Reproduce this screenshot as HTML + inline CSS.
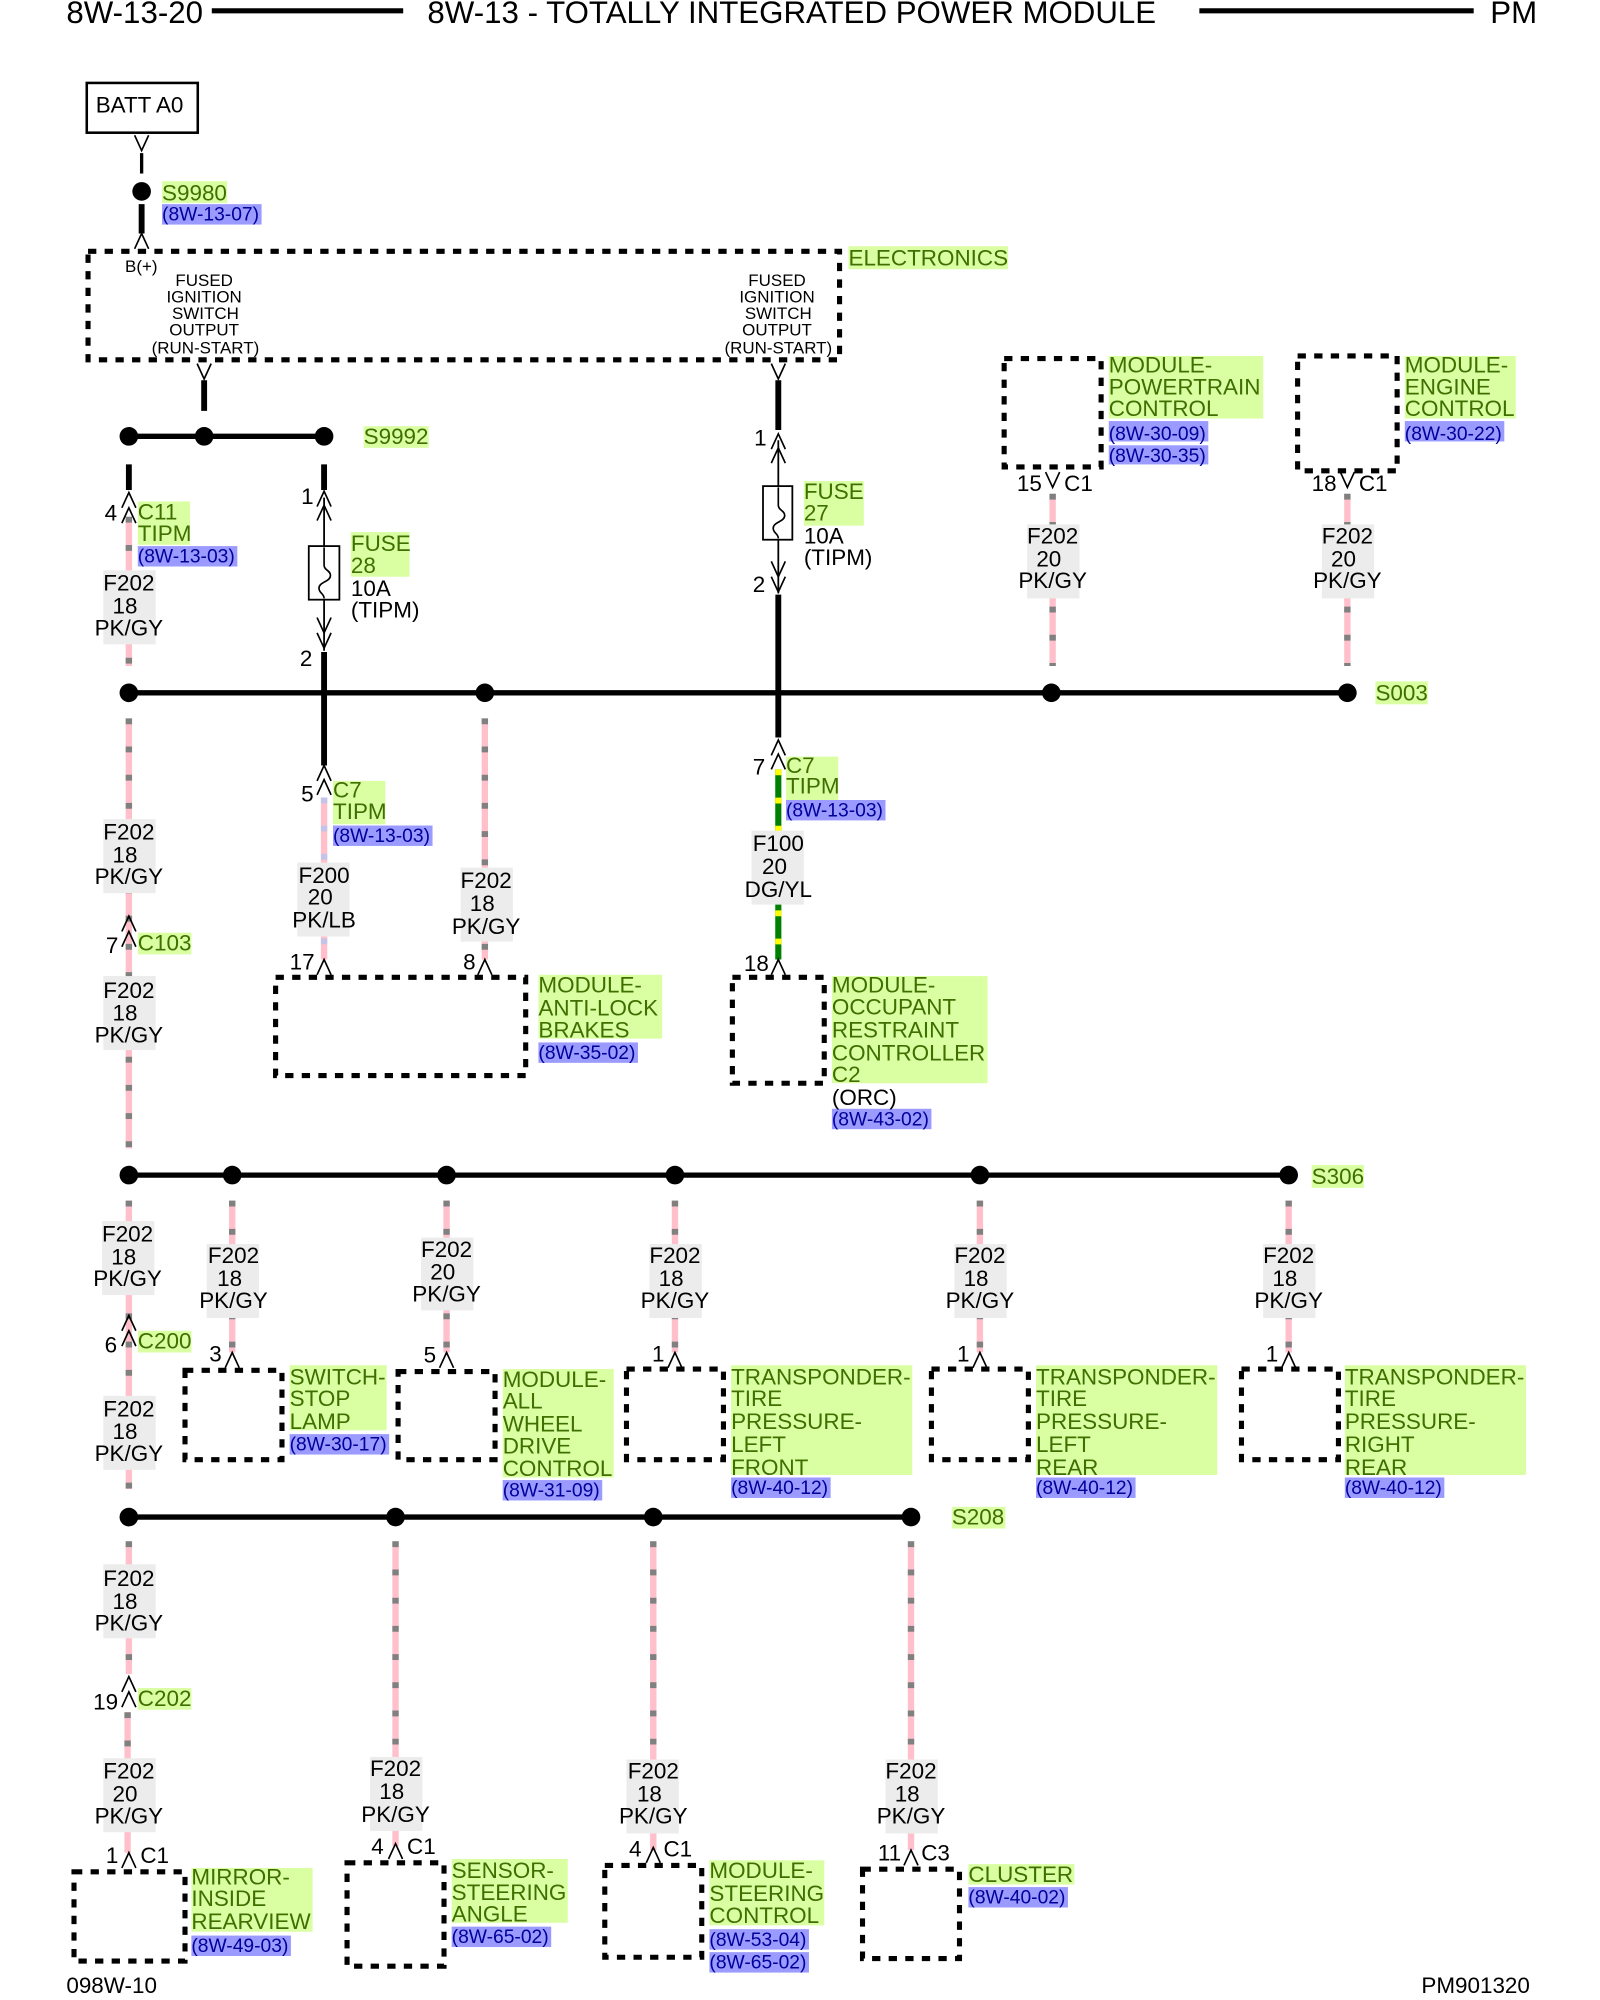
<!DOCTYPE html>
<html><head><meta charset="utf-8"><title>8W-13-20</title>
<style>
html,body{margin:0;padding:0;background:#fff}
svg{display:block}
text{font-family:"Liberation Sans",sans-serif;font-size:17.6px;fill:#000}
.g{fill:#d9ffa2}.b{fill:#9a9aff}.k{fill:#ececec}
.gt text,text.gt{fill:#3f6f00}
.bt text,text.bt{fill:#00009a;font-size:15.1px}
.s{font-size:13.3px}
.c{text-anchor:middle}
.h{font-size:24.5px}
.bus{stroke:#000;stroke-width:4.2;fill:none}
.th{stroke:#000;stroke-width:4.6;fill:none}
.tn{stroke:#000;stroke-width:1.4;fill:none}
.pk{stroke:#ffc0cb;stroke-width:5;fill:none}
.gy{stroke:#808080;stroke-width:5;stroke-dasharray:4.6 17.5;fill:none}
.lb{stroke:#c4c4e8;stroke-width:5;stroke-dasharray:4.6 17.5;fill:none}
.dg{stroke:#008000;stroke-width:4.8;fill:none}
.yl{stroke:#ffff00;stroke-width:4.8;stroke-dasharray:4.6 17.5;fill:none}
.d{fill:none;stroke:#000;stroke-width:4;stroke-dasharray:6.5 6.5}
</style></head><body>
<svg xmlns="http://www.w3.org/2000/svg" width="1600" height="2000" viewBox="0 0 1254 1567.5">
<defs>
<path id="u" d="M-5.5 12L0 0L5.5 12" fill="none" stroke="#000" stroke-width="1.3"/>
<path id="v" d="M-5.5 -12L0 0L5.5 -12" fill="none" stroke="#000" stroke-width="1.3"/>
<path id="f" d="M0 0V14C0 18 5 18 5 22C5 27 -4 27 -4 32C-4 36 0 36 0 40" fill="none" stroke="#000" stroke-width="1.3"/>
</defs>
<rect width="1254" height="1567.5" fill="#fff"/>

<!-- header -->
<text class="h" x="52" y="18">8W-13-20</text>
<line x1="166" y1="8.5" x2="316" y2="8.5" stroke="#000" stroke-width="4"/>
<text class="h" x="335" y="18">8W-13 - TOTALLY INTEGRATED POWER MODULE</text>
<line x1="940" y1="8.5" x2="1155" y2="8.5" stroke="#000" stroke-width="4"/>
<text class="h" x="1168" y="18">PM</text>

<!-- pink wires -->
<g class="pk">
<path d="M101 405V522M101 563V900M101 941V1167M101 1208V1312M100 1342V1452M254 625V752M380 563V752M825 387V522M1056 387V522M182 941V1060M350 941V1060M529 941V1060M768 941V1060M1010 941V1060M310 1208V1447M512 1208V1450M714 1208V1450"/>
</g>
<g class="gy">
<path d="M101 405V522M101 563V900M101 941V1167M101 1208V1312M100 1342V1452M380 563V752M825 387V522M1056 387V522M182 941V1060M350 941V1060M529 941V1060M768 941V1060M1010 941V1060M310 1208V1447M512 1208V1450M714 1208V1450"/>
</g>
<path class="lb" d="M254 625V752"/>
<path class="dg" d="M610 603V752"/>
<path class="yl" d="M610 603V752"/>

<!-- thick wires -->
<g class="th">
<path d="M111 160V183M160 298V322M101 364V384M254 364V384M254 511V600M610 298V337M610 466V578"/>
</g>
<line x1="111" y1="120" x2="111" y2="136" stroke="#000" stroke-width="2.6"/>
<path class="tn" d="M254 390V428M254 470V510M610 345V381M610 423V465"/>

<!-- buses -->
<g class="bus">
<line x1="101" y1="342" x2="254" y2="342"/>
<line x1="101" y1="543" x2="1056" y2="543"/>
<line x1="101" y1="921" x2="1010" y2="921"/>
<line x1="101" y1="1189" x2="714" y2="1189"/>
</g>
<g fill="#000">
<circle cx="111" cy="150" r="7.3"/>
<circle cx="101" cy="342" r="7.3"/><circle cx="160" cy="342" r="7.3"/><circle cx="254" cy="342" r="7.3"/>
<circle cx="101" cy="543" r="7.3"/><circle cx="380" cy="543" r="7.3"/><circle cx="824" cy="543" r="7.3"/><circle cx="1056" cy="543" r="7.3"/>
<circle cx="101" cy="921" r="7.3"/><circle cx="182" cy="921" r="7.3"/><circle cx="350" cy="921" r="7.3"/><circle cx="529" cy="921" r="7.3"/><circle cx="768" cy="921" r="7.3"/><circle cx="1010" cy="921" r="7.3"/>
<circle cx="101" cy="1189" r="7.3"/><circle cx="310" cy="1189" r="7.3"/><circle cx="512" cy="1189" r="7.3"/><circle cx="714" cy="1189" r="7.3"/>
</g>

<!-- fuses -->
<rect x="242" y="428" width="24" height="42" fill="#fff" stroke="#000" stroke-width="1.4"/>
<use href="#f" x="254" y="429"/>
<rect x="598" y="381" width="23" height="42" fill="#fff" stroke="#000" stroke-width="1.4"/>
<use href="#f" x="610" y="382"/>

<!-- connectors -->
<use href="#v" x="111" y="118"/>
<use href="#u" x="111" y="183"/>
<use href="#v" x="160" y="297"/>
<use href="#v" x="610" y="297"/>
<use href="#u" x="101" y="386"/><use href="#u" x="101" y="398"/>
<use href="#u" x="254" y="385"/><use href="#u" x="254" y="396"/>
<use href="#v" x="254" y="496"/><use href="#v" x="254" y="508"/>
<use href="#u" x="610" y="340"/><use href="#u" x="610" y="351"/>
<use href="#v" x="610" y="452"/><use href="#v" x="610" y="464"/>
<use href="#u" x="610" y="580"/><use href="#u" x="610" y="591"/>
<use href="#u" x="254" y="600"/><use href="#u" x="254" y="611"/>
<use href="#u" x="254" y="752"/>
<use href="#u" x="380" y="752"/>
<use href="#u" x="610" y="752"/>
<use href="#v" x="825" y="382"/>
<use href="#v" x="1056" y="382"/>
<use href="#u" x="101" y="718"/><use href="#u" x="101" y="730"/>
<use href="#u" x="101" y="1031"/><use href="#u" x="101" y="1043"/>
<use href="#u" x="101" y="1314"/><use href="#u" x="101" y="1326"/>
<use href="#u" x="101" y="1452"/>
<use href="#u" x="182" y="1060"/><use href="#u" x="350" y="1060"/><use href="#u" x="529" y="1060"/><use href="#u" x="768" y="1060"/><use href="#u" x="1010" y="1060"/>
<use href="#u" x="310" y="1445"/><use href="#u" x="512" y="1448"/><use href="#u" x="714" y="1450"/>

<!-- boxes -->
<rect x="68" y="65" width="87" height="39" fill="#fff" stroke="#000" stroke-width="2"/>
<text x="75" y="88">BATT A0</text>
<rect class="d" x="69" y="197" width="589" height="85"/>
<rect class="d" x="787" y="281" width="76" height="85"/>
<rect class="d" x="1017" y="279" width="78" height="90"/>
<rect class="d" x="216" y="766" width="196" height="77"/>
<rect class="d" x="574" y="766" width="72" height="83"/>
<rect class="d" x="145" y="1074" width="76" height="70"/>
<rect class="d" x="312" y="1075" width="76" height="69"/>
<rect class="d" x="491" y="1073" width="76" height="71"/>
<rect class="d" x="730" y="1073" width="76" height="71"/>
<rect class="d" x="973" y="1073" width="76" height="71"/>
<rect class="d" x="58" y="1467" width="87" height="70"/>
<rect class="d" x="272" y="1460" width="76" height="81"/>
<rect class="d" x="474" y="1462" width="76" height="72"/>
<rect class="d" x="676" y="1465" width="76" height="70"/>

<!-- wire label backgrounds -->
<g class="k">
<rect x="81" y="447" width="41" height="58"/>
<rect x="81" y="642" width="41" height="58"/>
<rect x="81" y="765" width="41" height="58"/>
<rect x="80" y="957" width="41" height="58"/>
<rect x="81" y="1094" width="41" height="58"/>
<rect x="81" y="1226" width="41" height="58"/>
<rect x="81" y="1378" width="41" height="58"/>
<rect x="233" y="676" width="41" height="58"/>
<rect x="361" y="680" width="41" height="58"/>
<rect x="589" y="651" width="41" height="58"/>
<rect x="805" y="411" width="41" height="58"/>
<rect x="1036" y="411" width="41" height="58"/>
<rect x="162" y="975" width="41" height="58"/>
<rect x="330" y="970" width="41" height="57"/>
<rect x="509" y="975" width="41" height="58"/>
<rect x="748" y="975" width="41" height="58"/>
<rect x="990" y="975" width="41" height="58"/>
<rect x="290" y="1377" width="41" height="58"/>
<rect x="491" y="1379" width="41" height="58"/>
<rect x="694" y="1379" width="41" height="58"/>
</g>

<!-- wire labels -->
<g class="c">
<text class="c" x="101" y="463">F202</text><text class="c" x="98" y="481">18</text><text class="c" x="101" y="498">PK/GY</text>
<text class="c" x="101" y="658">F202</text><text class="c" x="98" y="676">18</text><text class="c" x="101" y="693">PK/GY</text>
<text class="c" x="101" y="782">F202</text><text class="c" x="98" y="800">18</text><text class="c" x="101" y="817">PK/GY</text>
<text class="c" x="100" y="973">F202</text><text class="c" x="97" y="991">18</text><text class="c" x="100" y="1008">PK/GY</text>
<text class="c" x="101" y="1110">F202</text><text class="c" x="98" y="1128">18</text><text class="c" x="101" y="1145">PK/GY</text>
<text class="c" x="101" y="1243">F202</text><text class="c" x="98" y="1261">18</text><text class="c" x="101" y="1278">PK/GY</text>
<text class="c" x="101" y="1394">F202</text><text class="c" x="98" y="1412">20</text><text class="c" x="101" y="1429">PK/GY</text>
<text class="c" x="254" y="692">F200</text><text class="c" x="251" y="709">20</text><text class="c" x="254" y="727">PK/LB</text>
<text class="c" x="381" y="696">F202</text><text class="c" x="378" y="714">18</text><text class="c" x="381" y="732">PK/GY</text>
<text class="c" x="610" y="667">F100</text><text class="c" x="607" y="685">20</text><text class="c" x="610" y="703">DG/YL</text>
<text class="c" x="825" y="426">F202</text><text class="c" x="822" y="444">20</text><text class="c" x="825" y="461">PK/GY</text>
<text class="c" x="1056" y="426">F202</text><text class="c" x="1053" y="444">20</text><text class="c" x="1056" y="461">PK/GY</text>
<text class="c" x="183" y="990">F202</text><text class="c" x="180" y="1008">18</text><text class="c" x="183" y="1025">PK/GY</text>
<text class="c" x="350" y="985">F202</text><text class="c" x="347" y="1003">20</text><text class="c" x="350" y="1020">PK/GY</text>
<text class="c" x="529" y="990">F202</text><text class="c" x="526" y="1008">18</text><text class="c" x="529" y="1025">PK/GY</text>
<text class="c" x="768" y="990">F202</text><text class="c" x="765" y="1008">18</text><text class="c" x="768" y="1025">PK/GY</text>
<text class="c" x="1010" y="990">F202</text><text class="c" x="1007" y="1008">18</text><text class="c" x="1010" y="1025">PK/GY</text>
<text class="c" x="310" y="1392">F202</text><text class="c" x="307" y="1410">18</text><text class="c" x="310" y="1428">PK/GY</text>
<text class="c" x="512" y="1394">F202</text><text class="c" x="509" y="1412">18</text><text class="c" x="512" y="1429">PK/GY</text>
<text class="c" x="714" y="1394">F202</text><text class="c" x="711" y="1412">18</text><text class="c" x="714" y="1429">PK/GY</text>
</g>

<!-- pin numbers -->
<text x="82" y="408">4</text><text x="236" y="395">1</text><text x="235" y="522">2</text>
<text x="591" y="349">1</text><text x="590" y="464">2</text><text x="590" y="607">7</text>
<text x="236" y="628">5</text><text x="227" y="760">17</text><text x="363" y="760">8</text><text x="583" y="761">18</text>
<text x="797" y="385">15</text><text x="834" y="385">C1</text><text x="1028" y="385">18</text><text x="1065" y="385">C1</text>
<text x="83" y="747">7</text><text x="82" y="1060">6</text><text x="73" y="1340">19</text>
<text x="83" y="1460">1</text><text x="110" y="1460">C1</text>
<text x="164" y="1067">3</text><text x="332" y="1068">5</text><text x="511" y="1067">1</text><text x="750" y="1067">1</text><text x="992" y="1067">1</text>
<text x="291" y="1453">4</text><text x="319" y="1453">C1</text><text x="493" y="1455">4</text><text x="520" y="1455">C1</text><text x="688" y="1458">11</text><text x="722" y="1458">C3</text>

<!-- green backgrounds -->
<g class="g">
<rect x="127" y="142" width="51" height="17"/>
<rect x="665" y="193" width="125" height="18"/>
<rect x="285" y="334" width="51" height="17"/>
<rect x="108" y="393" width="41" height="34"/>
<rect x="275" y="417" width="46" height="35"/>
<rect x="630" y="377" width="47" height="35"/>
<rect x="869" y="279" width="121" height="49"/>
<rect x="1101" y="279" width="87" height="49"/>
<rect x="1078" y="534" width="41" height="18"/>
<rect x="261" y="612" width="41" height="34"/>
<rect x="616" y="593" width="41" height="34"/>
<rect x="422" y="764" width="97" height="50"/>
<rect x="652" y="765" width="122" height="84"/>
<rect x="108" y="731" width="42" height="17"/>
<rect x="1028" y="913" width="41" height="18"/>
<rect x="108" y="1043" width="42" height="17"/>
<rect x="227" y="1070" width="76" height="51"/>
<rect x="394" y="1073" width="87" height="85"/>
<rect x="573" y="1070" width="142" height="86"/>
<rect x="812" y="1070" width="142" height="86"/>
<rect x="1054" y="1070" width="142" height="86"/>
<rect x="746" y="1181" width="42" height="17"/>
<rect x="108" y="1323" width="42" height="17"/>
<rect x="150" y="1464" width="95" height="50"/>
<rect x="354" y="1457" width="91" height="50"/>
<rect x="556" y="1458" width="90" height="51"/>
<rect x="759" y="1461" width="83" height="16"/>
</g>

<!-- blue backgrounds -->
<g class="b">
<rect x="127" y="160" width="78" height="16"/>
<rect x="108" y="428" width="78" height="16"/>
<rect x="869" y="330" width="78" height="16"/><rect x="869" y="349" width="78" height="15"/>
<rect x="1101" y="330" width="78" height="16"/>
<rect x="261" y="647" width="78" height="16"/>
<rect x="616" y="627" width="78" height="16"/>
<rect x="422" y="817" width="78" height="16"/>
<rect x="652" y="869" width="78" height="16"/>
<rect x="227" y="1124" width="78" height="16"/>
<rect x="394" y="1160" width="78" height="16"/>
<rect x="573" y="1158" width="78" height="16"/>
<rect x="812" y="1158" width="78" height="16"/>
<rect x="1054" y="1158" width="78" height="16"/>
<rect x="150" y="1517" width="78" height="16"/>
<rect x="354" y="1510" width="78" height="16"/>
<rect x="556" y="1512" width="78" height="16"/><rect x="556" y="1530" width="78" height="16"/>
<rect x="759" y="1479" width="78" height="16"/>
</g>

<!-- green text -->
<g class="gt">
<text x="127" y="157">S9980</text>
<text x="665" y="208">ELECTRONICS</text>
<text x="285" y="348">S9992</text>
<text x="108" y="407">C11</text><text x="108" y="424">TIPM</text>
<text x="275" y="432">FUSE</text><text x="275" y="449">28</text>
<text x="630" y="391">FUSE</text><text x="630" y="408">27</text>
<text x="869" y="292">MODULE-</text><text x="869" y="309">POWERTRAIN</text><text x="869" y="326">CONTROL</text>
<text x="1101" y="292">MODULE-</text><text x="1101" y="309">ENGINE</text><text x="1101" y="326">CONTROL</text>
<text x="1078" y="549">S003</text>
<text x="261" y="625">C7</text><text x="261" y="642">TIPM</text>
<text x="616" y="606">C7</text><text x="616" y="622">TIPM</text>
<text x="422" y="778">MODULE-</text><text x="422" y="796">ANTI-LOCK</text><text x="422" y="813">BRAKES</text>
<text x="652" y="778">MODULE-</text><text x="652" y="795">OCCUPANT</text><text x="652" y="813">RESTRAINT</text><text x="652" y="831">CONTROLLER</text><text x="652" y="848">C2</text>
<text x="108" y="745">C103</text>
<text x="1028" y="928">S306</text>
<text x="108" y="1057">C200</text>
<text x="227" y="1085">SWITCH-</text><text x="227" y="1102">STOP</text><text x="227" y="1120">LAMP</text>
<text x="394" y="1087">MODULE-</text><text x="394" y="1104">ALL</text><text x="394" y="1122">WHEEL</text><text x="394" y="1139">DRIVE</text><text x="394" y="1157">CONTROL</text>
<text x="573" y="1085">TRANSPONDER-</text><text x="573" y="1102">TIRE</text><text x="573" y="1120">PRESSURE-</text><text x="573" y="1138">LEFT</text><text x="573" y="1156">FRONT</text>
<text x="812" y="1085">TRANSPONDER-</text><text x="812" y="1102">TIRE</text><text x="812" y="1120">PRESSURE-</text><text x="812" y="1138">LEFT</text><text x="812" y="1156">REAR</text>
<text x="1054" y="1085">TRANSPONDER-</text><text x="1054" y="1102">TIRE</text><text x="1054" y="1120">PRESSURE-</text><text x="1054" y="1138">RIGHT</text><text x="1054" y="1156">REAR</text>
<text x="746" y="1195">S208</text>
<text x="108" y="1337">C202</text>
<text x="150" y="1477">MIRROR-</text><text x="150" y="1494">INSIDE</text><text x="150" y="1512">REARVIEW</text>
<text x="354" y="1472">SENSOR-</text><text x="354" y="1489">STEERING</text><text x="354" y="1506">ANGLE</text>
<text x="556" y="1472">MODULE-</text><text x="556" y="1490">STEERING</text><text x="556" y="1507">CONTROL</text>
<text x="759" y="1475">CLUSTER</text>
</g>

<!-- blue text -->
<g class="bt">
<text x="127" y="173">(8W-13-07)</text>
<text x="108" y="441">(8W-13-03)</text>
<text x="869" y="345">(8W-30-09)</text><text x="869" y="362">(8W-30-35)</text>
<text x="1101" y="345">(8W-30-22)</text>
<text x="261" y="660">(8W-13-03)</text>
<text x="616" y="640">(8W-13-03)</text>
<text x="422" y="830">(8W-35-02)</text>
<text x="652" y="882">(8W-43-02)</text>
<text x="227" y="1137">(8W-30-17)</text>
<text x="394" y="1173">(8W-31-09)</text>
<text x="573" y="1171">(8W-40-12)</text>
<text x="812" y="1171">(8W-40-12)</text>
<text x="1054" y="1171">(8W-40-12)</text>
<text x="150" y="1530">(8W-49-03)</text>
<text x="354" y="1523">(8W-65-02)</text>
<text x="556" y="1525">(8W-53-04)</text><text x="556" y="1543">(8W-65-02)</text>
<text x="759" y="1492">(8W-40-02)</text>
</g>

<!-- black text -->
<text x="275" y="467">10A</text><text x="275" y="484">(TIPM)</text>
<text x="630" y="426">10A</text><text x="630" y="443">(TIPM)</text>
<text x="652" y="866">(ORC)</text>
<text class="s" x="98" y="213">B(+)</text>
<g>
<text class="s c" x="160" y="224">FUSED</text><text class="s c" x="160" y="237">IGNITION</text><text class="s c" x="161" y="250">SWITCH</text><text class="s c" x="160" y="263">OUTPUT</text><text class="s c" x="161" y="277">(RUN-START)</text>
<text class="s c" x="609" y="224">FUSED</text><text class="s c" x="609" y="237">IGNITION</text><text class="s c" x="610" y="250">SWITCH</text><text class="s c" x="609" y="263">OUTPUT</text><text class="s c" x="610" y="277">(RUN-START)</text>
</g>
<text x="52" y="1562">098W-10</text>
<text x="1114" y="1562">PM901320</text>
</svg>
</body></html>
